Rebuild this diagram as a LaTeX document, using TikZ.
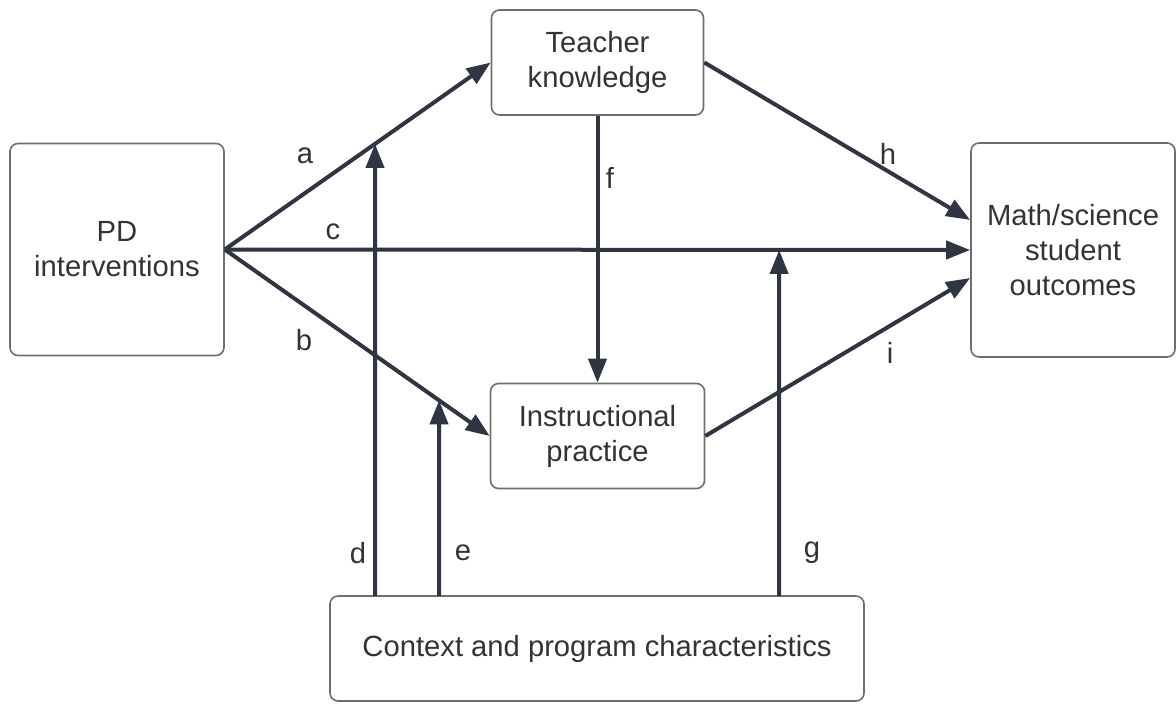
\documentclass[tikz,border=0pt]{standalone}
\usepackage{fontspec}
\setmainfont{Liberation Sans}
\usetikzlibrary{positioning,calc,arrows.meta}
\definecolor{linecol}{HTML}{2F3542}
\definecolor{boxcol}{HTML}{6E6E6E}
\definecolor{txtcol}{HTML}{333333}
\tikzset{
    every node/.style={font=\fontsize{14.6}{17.5}\selectfont, text=txtcol},
    roundbox/.style={draw=boxcol, line width=0.8pt, rounded corners=4pt, align=center, inner sep=0pt},
    arrow/.style={-{Triangle[length=12pt,width=9pt]}, line width=2pt, draw=linecol},
    letter/.style={inner sep=0pt},
}

\begin{document}
\begin{tikzpicture}[x=0.5pt,y=-0.5pt]
\useasboundingbox (0,0) rectangle (1176,703);

\node[roundbox, minimum width=107pt, minimum height=106pt] (pd) at (117,249.5) {PD\\interventions};
\node[roundbox, minimum width=106pt, minimum height=52.5pt] (tk) at (597.5,62.5) {Teacher\\knowledge};
\node[roundbox, minimum width=107pt, minimum height=52.5pt] (ip) at (597.5,436) {Instructional\\practice};
\node[roundbox, minimum width=102pt, minimum height=107pt] (mo) at (1073,250) {Math/science\\student\\outcomes};
\node[roundbox, minimum width=267pt, minimum height=52.5pt] (cp) at (597,648.5) {Context and program characteristics};

% paths from the interventions
\draw[arrow] (pd.east) -- (tk.west);
\draw[arrow] (pd.east) -- (ip.west);
\draw[arrow] (pd.east) -- (mo.west);
\draw[arrow] (tk.south) -- (ip.north);
\draw[arrow] (tk.east) -- ([yshift=15pt]mo.west);
\draw[arrow] (ip.east) -- ([yshift=-14pt]mo.west);

% moderators from the context box
\coordinate (dfoot) at (375,596);
\coordinate (efoot) at (439,596);
\coordinate (gfoot) at (779,596);
\coordinate (dtip) at (intersection of pd.east--tk.west and dfoot--375,0);
\coordinate (etip) at (intersection of pd.east--ip.west and efoot--439,0);
\coordinate (gtip) at (intersection of pd.east--mo.west and gfoot--779,0);
\draw[arrow] (dfoot) -- (dtip);
\draw[arrow] (efoot) -- (etip);
\draw[arrow] (gfoot) -- (gtip);

\foreach \name/\pos in {a/{(305,156)}, b/{(304,340)}, c/{(333,232)}, d/{(358,553)},
                        e/{(463,553)}, f/{(610,178)}, g/{(812,553)}, h/{(888,154)}, i/{(890,353)}}{
  \node[letter] (lbl-\name) at \pos {\name};
}

\end{tikzpicture}
\end{document}
